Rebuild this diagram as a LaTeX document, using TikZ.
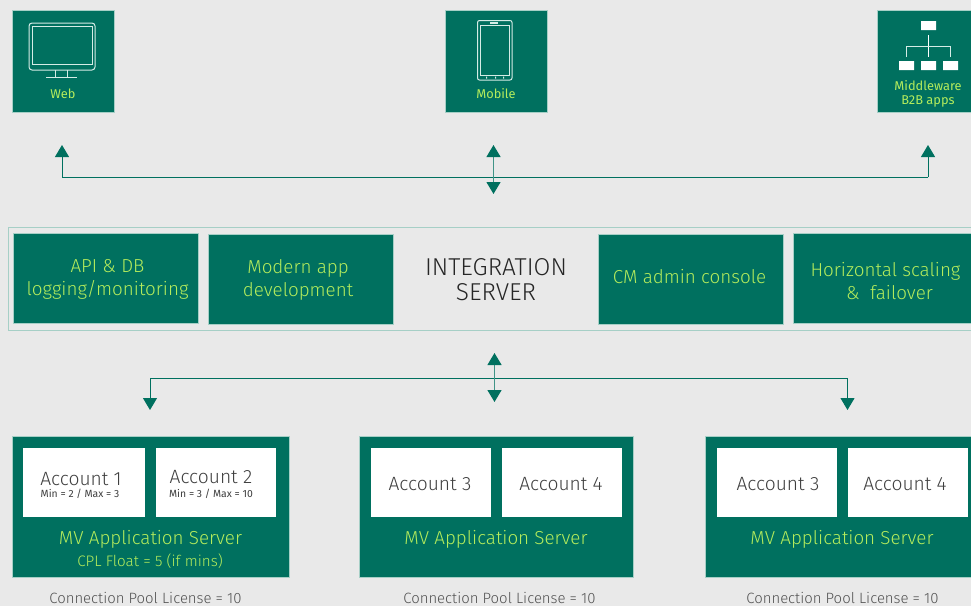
\documentclass[tikz,border=0pt]{standalone}
\usepackage{fontspec}
\setmainfont{Fira Sans Light}
\newfontfamily\smallfont{Fira Sans}
\usepackage{tikz}
\usetikzlibrary{positioning}
\usetikzlibrary{arrows.meta}
\definecolor{bggray}{HTML}{E9E9E9}
\definecolor{teal}{HTML}{00705F}
\definecolor{lime}{HTML}{B4EC5C}
\definecolor{edge}{HTML}{A6CFC6}
\definecolor{icon}{HTML}{D5ECE6}
\definecolor{ink}{HTML}{3F3F3F}
\tikzset{
  tealbox/.style={fill=teal,draw=edge,line width=0.5pt,inner sep=0pt},
  topbox/.style={tealbox,minimum height=102pt},
  midbox/.style={tealbox,minimum width=185pt,minimum height=90pt},
  midlabel/.style={text=lime,align=center,inner sep=0pt,font=\fontsize{18.8}{23}\selectfont},
  srvbox/.style={tealbox,minimum height=141pt},
  acctbox/.style={fill=white,inner sep=0pt,minimum width=120pt,minimum height=69pt},
  acctname/.style={text=ink,inner sep=0pt,font=\fontsize{19.2}{19.4}\selectfont},
  acctlim/.style={text=ink,inner sep=0pt,font=\smallfont\fontsize{10.4}{12}\selectfont},
  toplabel/.style={text=lime,align=center,inner sep=0pt,font=\smallfont\fontsize{12.8}{14}\selectfont},
  srvlabel/.style={text=lime,inner sep=0pt,font=\fontsize{18.8}{20}\selectfont},
  poollabel/.style={text=ink!90!white,inner sep=0pt,font=\fontsize{14.9}{15}\selectfont},
  bus/.style={teal,line width=1pt},
  tipline/.style={teal!75!white,line width=1.2pt,{Triangle[width=14pt,length=12pt,teal]}-{Triangle[width=14pt,length=12pt,teal]}},
  uparrow/.style={bus,-{Triangle[width=14pt,length=12pt]}},
  iconline/.style={icon,line width=1pt}
}
\begin{document}
\begin{tikzpicture}[x=1pt,y=-1pt]
  \fill[bggray] (0,0) rectangle (971,606);
  \useasboundingbox (0,0) rectangle (971,606);
  % top row
  \node[topbox,minimum width=102pt] at (63,61) (web) {};
  \node[topbox,minimum width=102pt] at (496,61) (mobile) {};
  \node[topbox,minimum width=102pt] at (928,61) (mw) {};
  \node[toplabel] at (63,94) (weblabel) {Web};
  \node[toplabel] at (496,94) (mobilelabel) {Mobile};
  \node[toplabel] at (928,93.5) (mwlabel) {Middleware\\B2B apps};
  % monitor
  \draw[iconline,rounded corners=3pt] (29,23) rectangle (95,70);
  \draw[iconline] (32,26) rectangle (92,64);
  \draw[iconline] (55,70) -- (55,77) (67,70) -- (67,77) (46,77) -- (77,77);
  % phone
  \draw[iconline,rounded corners=2pt] (477.5,20.5) rectangle (512,80);
  \draw[iconline] (480.5,25.5) rectangle (509.5,75);
  \draw[icon,line width=1.2pt] (490,23) -- (498,23);
  \fill[icon] (486,76.5) rectangle +(1,2) (495,76.5) rectangle +(1,2) (503,76.5) rectangle +(1,2);
  % hierarchy
  \fill[white] (921,21) rectangle +(15,9) (899,61) rectangle +(15,9) (921,61) rectangle +(15,9) (943,61) rectangle +(15,9);
  \draw[white,line width=0.7pt] (928.5,35) -- (928.5,57);
  \draw[icon,line width=0.7pt] (906,57) -- (906,46) -- (950.5,46) -- (950.5,57);
  % middle strip
  \node[draw=edge,line width=0.7pt,minimum width=970pt,minimum height=103pt,inner sep=0pt] at (493,278.5) (strip) {};
  \node[midbox] at (105.5,278) (logging) {};
  \node[midbox] at (300.5,279) (modern) {};
  \node[midbox] at (690.5,279) (cmadmin) {};
  \node[midbox,minimum width=178pt] at (882,278) (scaling) {};
  \node[midlabel] at (107.5,279.5) (logginglabel) {API \& DB\\logging/monitoring};
  \node[midlabel] at (298,279.5) (modernlabel) {Modern app\hspace{5pt}\\development};
  \node[midlabel] at (689.5,277) (cmadminlabel) {CM admin console};
  \node[midlabel] at (885.5,281) (scalinglabel) {Horizontal scaling\\\hspace{8pt}\& \ failover};
  \node[align=center,text=black!85,inner sep=0pt,font=\fontsize{24.4}{25}\selectfont] at (496,280) (isrv) {INTEGRATION\\SERVER};
  % top bus
  \coordinate (webtip) at (62,145);
  \coordinate (mwtip) at (928,145);
  \coordinate (upbustip) at (493.5,145);
  \coordinate (upbusend) at (493.5,194);
  \draw[uparrow] (928,177) -- (62,177) -- (webtip);
  \draw[uparrow] (928,177) -- (mwtip);
  \draw[tipline] (upbustip) -- (upbusend);
  % bottom bus
  \coordinate (srvonetip) at (150,410);
  \coordinate (srvthreetip) at (847.5,410);
  \coordinate (downbustip) at (494.5,353);
  \coordinate (downbusend) at (494.5,402);
  \draw[uparrow] (847.5,378) -- (150,378) -- (srvonetip);
  \draw[uparrow] (847.5,378) -- (srvthreetip);
  \draw[tipline] (downbustip) -- (downbusend);
  % servers
  \node[srvbox,minimum width=277pt] at (150.5,506.5) (srvone) {};
  \node[srvbox,minimum width=274pt] at (496,506.5) (srvtwo) {};
  \node[srvbox,minimum width=270pt] at (840,506.5) (srvthree) {};
  \node[acctbox,minimum width=122pt] at (84,482.5) (acctone) {};
  \node[acctbox] at (216,482.5) (accttwo) {};
  \node[acctbox] at (431,482.5) (acctthreea) {};
  \node[acctbox] at (562,482.5) (acctfoura) {};
  \node[acctbox] at (777,482.5) (acctthreeb) {};
  \node[acctbox] at (908,482.5) (acctfourb) {};
  \node[acctname] at (81,479) (acctonename) {Account 1};
  \node[acctlim] at (80,494) (acctonelim) {Min = 2 / Max = 3};
  \node[acctname] at (211,477) (accttwoname) {Account 2};
  \node[acctlim] at (211,494) (accttwolim) {Min = 3 / Max = 10};
  \node[acctname] at (430,484.5) (acctthreeaname) {Account 3};
  \node[acctname] at (561,484.5) (acctfouraname) {Account 4};
  \node[acctname] at (778,484.5) (acctthreebname) {Account 3};
  \node[acctname] at (905,484.5) (acctfourbname) {Account 4};
  \node[srvlabel] at (150.5,539) (srvonelabel) {MV Application Server};
  \node[srvlabel,font=\fontsize{15.2}{16}\selectfont] at (150,561) (cpl) {CPL Float = 5 (if mins)};
  \node[srvlabel] at (496,539) (srvtwolabel) {MV Application Server};
  \node[srvlabel] at (842,539) (srvthreelabel) {MV Application Server};
  \node[poollabel] at (145.5,597.5) (poolone) {Connection Pool License = 10};
  \node[poollabel] at (499.5,597.5) (pooltwo) {Connection Pool License = 10};
  \node[poollabel] at (842.5,597.5) (poolthree) {Connection Pool License = 10};
\end{tikzpicture}
\end{document}
